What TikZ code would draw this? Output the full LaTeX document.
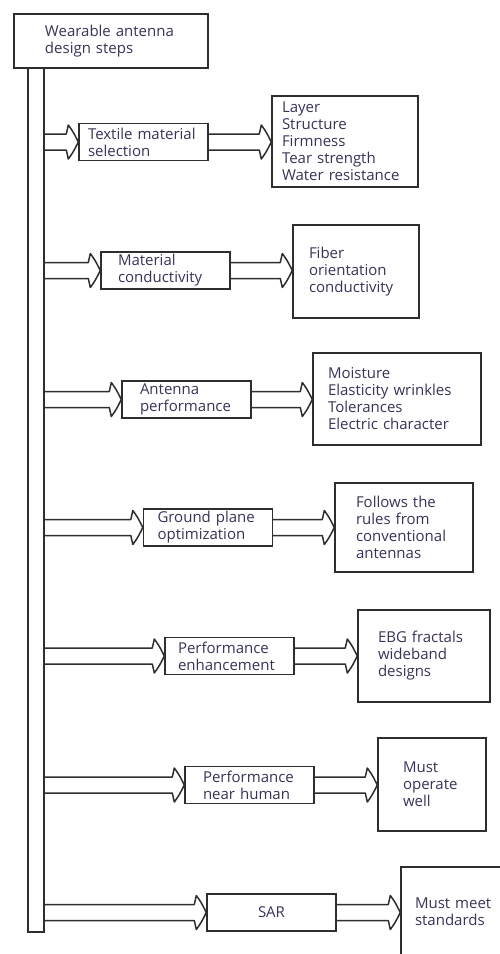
\documentclass[tikz,border=0pt]{standalone}
\usepackage{fontspec}
\setmainfont{Open Sans}
\definecolor{boxline}{rgb}{0.18,0.18,0.18}
\definecolor{boxtext}{rgb}{0.22,0.2,0.34}

\begin{document}
\begin{tikzpicture}[x=1pt, y=-1pt,
    every node/.style={font=\fontsize{15}{17}\selectfont, text=boxtext},
    box/.style={draw=boxline, line width=1.4pt, align=left, inner ysep=0pt},
    stepbox/.style={box, minimum height=37pt},
    infobox/.style={box, minimum height=#1},
    dbl/.style={draw=boxline, line width=1.5pt, line join=round, to path={
        ([yshift=8pt]\tikztostart) -- ([xshift=-12pt,yshift=8pt]\tikztotarget)
        -- ([xshift=-10pt,yshift=17pt]\tikztotarget)
        .. controls ([xshift=-5pt,yshift=10pt]\tikztotarget) .. (\tikztotarget)
        .. controls ([xshift=-5pt,yshift=-10pt]\tikztotarget) .. ([xshift=-10pt,yshift=-17pt]\tikztotarget)
        -- ([xshift=-12pt,yshift=-8pt]\tikztotarget) -- ([yshift=-8pt]\tikztostart)}}]
    \clip (0,0) rectangle (500,954);

    % title and the long bar
    \node [box, inner xsep=31pt, text width=132pt, minimum height=54pt] (top) at (111,41) {Wearable~antenna\\design steps};
    \node [draw=boxline, line width=1.4pt, minimum width=16pt, minimum height=864pt, inner sep=0pt] (bar) at (36,500) {};

    % design steps
    \node [stepbox, inner xsep=9pt, text width=111pt] (s1) at (143.5,142) {Textile~material\\selection};
    \node [stepbox, inner xsep=17pt, text width=95pt] (s2) at (165.5,270.5) {Material\\conductivity};
    \node [stepbox, inner xsep=18pt, text width=93pt] (s3) at (186.5,399.5) {Antenna\\performance};
    \node [stepbox, inner xsep=14pt, text width=101pt] (s4) at (208,527.5) {Ground~plane\\optimization};
    \node [stepbox, inner xsep=13pt, text width=103pt] (s5) at (229.5,656) {Performance\\enhancement};
    \node [stepbox, inner xsep=18pt, text width=93pt] (s6) at (249.5,785) {Performance\\near~human};
    \node [stepbox, align=center, inner xsep=0pt, text width=129pt] (s7) at (271.5,912.5) {SAR};

    % what each step is about
    \node [infobox=91pt, inner xsep=10pt, text width=126pt] (d1) at (345,141.5) {Layer\\Structure\\Firmness\\Tear~strength\\Water~resistance};
    \node [infobox=93pt, inner xsep=16pt, text width=94pt] (d2) at (356,271.5) {Fiber\\orientation\\conductivity};
    \node [infobox=92pt, inner xsep=15pt, text width=138pt] (d3) at (397,399) {Moisture\\Elasticity~wrinkles\\Tolerances\\Electric~character};
    \node [infobox=89pt, inner xsep=21pt, text width=96pt] (d4) at (404,527.5) {Follows~the\\rules~from\\conventional\\antennas};
    \node [infobox=92pt, inner xsep=20pt, text width=92pt] (d5) at (424,656) {EBG~fractals\\wideband\\designs};
    \node [infobox=93pt, inner xsep=25pt, text width=58pt] (d6) at (432,784.5) {Must\\operate\\well};
    \node [infobox=90pt, inner xsep=14pt, text width=92pt] (d7) at (461,912) {Must~meet\\standards};

    \foreach \i in {1,...,7} {
        \coordinate (b\i) at (bar.east |- s\i.west);
        \draw [dbl] (b\i) to (s\i.west);
        \draw [dbl] (s\i.east) to (s\i.east -| d\i.west);
    }
\end{tikzpicture}
\end{document}
